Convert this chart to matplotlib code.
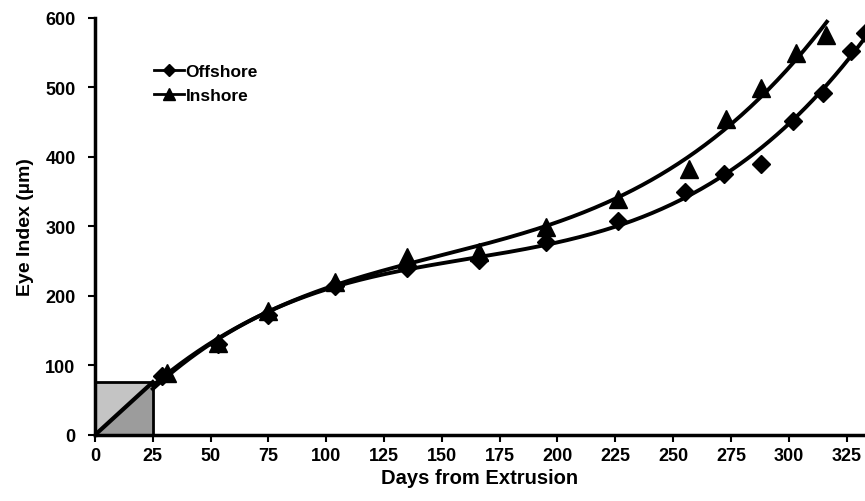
import numpy as np
import matplotlib.pyplot as plt
from matplotlib.patches import Polygon

plt.rcParams['font.family'] = ['Liberation Sans', 'DejaVu Sans']
plt.rcParams['font.weight'] = 'bold'

# eye index measurements by age (days from extrusion)
off_days = [29, 53, 75, 104, 135, 166, 195, 226, 255, 272, 288, 302, 315, 327, 333]
off_eye = [85, 131, 173, 214, 240, 252, 278, 308, 350, 376, 390, 452, 492, 553, 578]
in_days = [31, 53, 75, 104, 135, 166, 195, 226, 257, 273, 288, 303, 316]
in_eye = [89, 133, 178, 220, 256, 263, 299, 340, 383, 455, 499, 550, 576]

# pre-sampling period (box in the lower left corner)
box_days = 25
box_eye = 76

fig = plt.figure(figsize=(8.65, 5.02), dpi=100)
ax = fig.add_axes([0.1098, 0.1315, 0.8902, 0.8307])

# shaded box with diagonal
ax.add_patch(Polygon([[0, 0], [0, box_eye], [box_days, box_eye]],
                     closed=True, facecolor='#c4c4c4', edgecolor='none', zorder=1))
ax.add_patch(Polygon([[0, 0], [box_days, 0], [box_days, box_eye]],
                     closed=True, facecolor='#9c9c9c', edgecolor='none', zorder=1))
ax.plot([0, box_days, box_days, 0, 0], [0, 0, box_eye, box_eye, 0], color='black', lw=2, zorder=2)
ax.plot([0, box_days], [0, box_eye], color='black', lw=3, zorder=3)

# cubic trend lines through each series
for d, e, end in [(off_days, off_eye, 340), (in_days, in_eye, 316.5)]:
    coef = np.polyfit(d, e, 3)
    xs = np.linspace(box_days, end, 300)
    ax.plot(xs, np.polyval(coef, xs), color='black', lw=2.8, zorder=3)

ax.plot(off_days, off_eye, linestyle='none', marker='D', ms=9.5, color='black', zorder=4)
ax.plot(in_days, in_eye, linestyle='none', marker='^', ms=13, color='black', zorder=4)

# legend entries
ax.plot([], [], color='black', lw=2, marker='D', ms=6, label='Offshore')
ax.plot([], [], color='black', lw=2, marker='^', ms=8, label='Inshore')
handles, labels = ax.get_legend_handles_labels()
ax.legend(handles[-2:], labels[-2:], loc='upper left', bbox_to_anchor=(0.057, 0.928),
          frameon=False, fontsize=12.5, handlelength=1.7, handletextpad=0.1,
          labelspacing=0.55)

ax.set_xlim(0, 333)
ax.set_ylim(0, 600)
ax.set_xticks(np.arange(0, 326, 25))
ax.set_yticks(np.arange(0, 601, 100))
ax.tick_params(direction='out', length=5, width=1.5, labelsize=13)
ax.tick_params(axis='y', pad=9)
for lab in ax.get_xticklabels() + ax.get_yticklabels():
    lab.set_fontweight('bold')
ax.spines['top'].set_visible(False)
ax.spines['right'].set_visible(False)
ax.spines['left'].set_linewidth(2.5)
ax.spines['bottom'].set_linewidth(2.5)

ax.set_xlabel('Days from Extrusion', fontsize=14.5, fontweight='bold', labelpad=3)
ax.set_ylabel('Eye Index (µm)', fontsize=14, fontweight='bold', labelpad=8)

fig.savefig('out.png', dpi=100)
